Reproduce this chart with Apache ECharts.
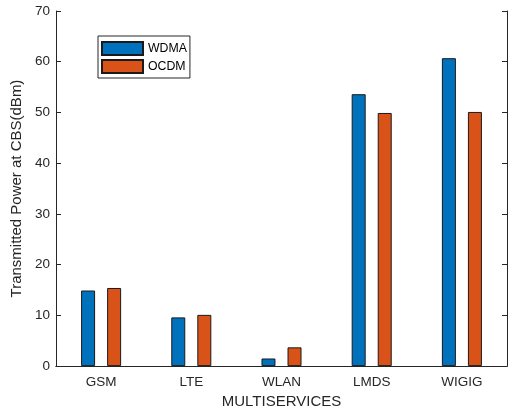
<!DOCTYPE html>
<html>
<head>
<meta charset="utf-8">
<script src="https://cdn.jsdelivr.net/npm/echarts@6/dist/echarts.min.js"></script>
<style>
  html, body { margin: 0; padding: 0; background: #fff; }
  #chart { width: 514px; height: 414px; }
</style>
</head>
<body>
<div id="chart"></div>
<script>
const services = ["GSM", "LTE", "WLAN", "LMDS", "WIGIG"];
const wdma = [14.9, 9.6, 1.5, 53.6, 60.7];
const ocdm = [15.4, 10.1, 3.7, 49.9, 50.1];
const yTicks = [0, 10, 20, 30, 40, 50, 60, 70];

const axisColor = "#262626";
const font = "Liberation Sans, Arial, sans-serif";

const chart = echarts.init(document.getElementById("chart"));

const option = {
  animation: false,
  textStyle: { fontFamily: font },
  grid: { left: 56, right: 7, top: 11, bottom: 47 },
  legend: {
    data: ["WDMA", "OCDM"],
    icon: "rect",
    orient: "vertical",
    left: 98,
    top: 36,
    itemWidth: 41,
    itemHeight: 13,
    itemGap: 3,
    padding: [5, 3, 4, 3],
    borderColor: axisColor,
    borderWidth: 1,
    backgroundColor: "#fff",
    textStyle: { fontSize: 12.3, lineHeight: 13, color: "#000", fontFamily: font },
  },
  xAxis: [
    {
      type: "category",
      data: services,
      name: "MULTISERVICES",
      nameLocation: "middle",
      nameGap: 27,
      nameTextStyle: { fontSize: 15, color: axisColor },
      axisLine: { lineStyle: { color: axisColor } },
      axisTick: { inside: true, length: 5, alignWithLabel: true, lineStyle: { color: axisColor } },
      axisLabel: { fontSize: 13.5, color: axisColor, margin: 9 },
    },
    {
      type: "category",
      data: services,
      position: "top",
      axisLine: { lineStyle: { color: axisColor } },
      axisTick: { inside: true, length: 5, alignWithLabel: true, lineStyle: { color: axisColor } },
      axisLabel: { show: false },
    },
  ],
  yAxis: [
    {
      type: "value",
      min: yTicks[0],
      max: yTicks[yTicks.length - 1],
      interval: 10,
      name: "Transmitted Power at CBS(dBm)",
      nameLocation: "middle",
      nameGap: 27,
      nameTextStyle: { fontSize: 15, color: axisColor },
      axisLine: { show: true, lineStyle: { color: axisColor } },
      axisTick: { show: true, inside: true, length: 5, lineStyle: { color: axisColor } },
      axisLabel: { fontSize: 13.5, color: axisColor, margin: 6 },
      splitLine: { show: false },
    },
    {
      type: "value",
      position: "right",
      min: yTicks[0],
      max: yTicks[yTicks.length - 1],
      interval: 10,
      axisLine: { show: true, lineStyle: { color: axisColor } },
      axisTick: { show: true, inside: true, length: 5, lineStyle: { color: axisColor } },
      axisLabel: { show: false },
      splitLine: { show: false },
    },
  ],
  series: [
    {
      name: "WDMA",
      type: "bar",
      data: wdma,
      barWidth: 14,
      barGap: "86%",
      itemStyle: { color: "#0072BD", borderColor: "#1a1a1a", borderWidth: 1 },
    },
    {
      name: "OCDM",
      type: "bar",
      data: ocdm,
      barWidth: 14,
      itemStyle: { color: "#D95319", borderColor: "#1a1a1a", borderWidth: 1 },
    },
  ],
};

chart.setOption(option);
</script>
</body>
</html>
